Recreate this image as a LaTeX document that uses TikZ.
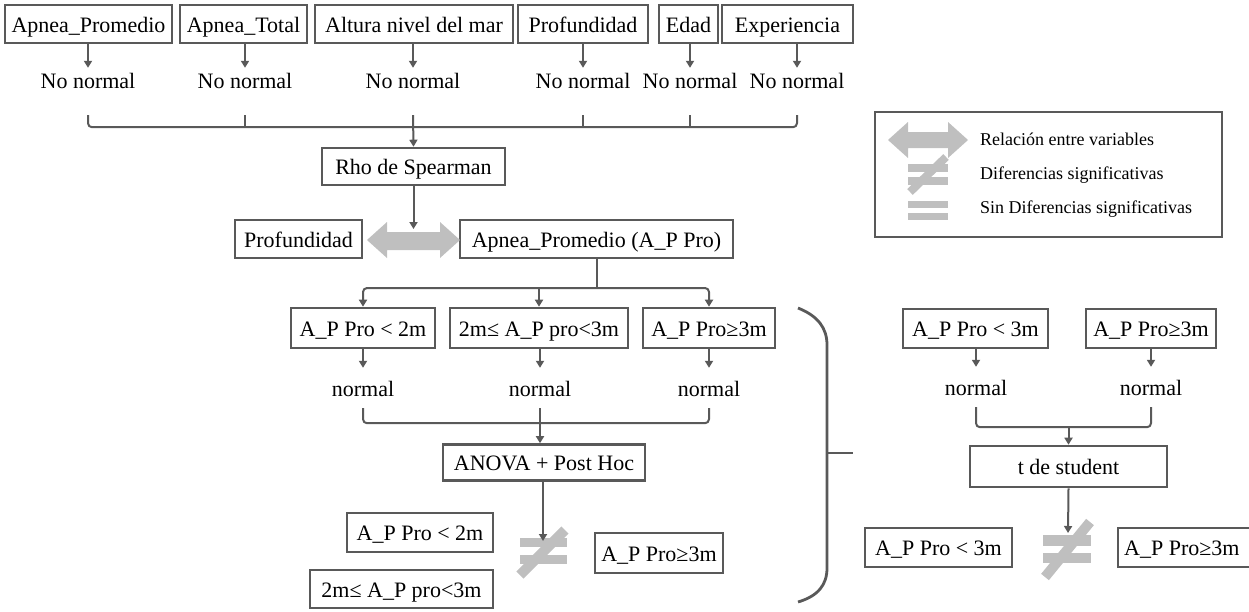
\documentclass[tikz,border=0pt]{standalone}
\usepackage{fontspec}
\setmainfont{Liberation Serif}
\usetikzlibrary{arrows.meta,calc}
\definecolor{ln}{HTML}{595959}
\definecolor{sym}{HTML}{BFBFBF}
\begin{document}
\begin{tikzpicture}[x=1pt,y=-1pt,
  box/.style={draw=ln,line width=2.6pt,inner sep=0pt,text height=17pt,text depth=1pt,font=\fontsize{22}{26}\selectfont,fill=white},
  lbl/.style={inner sep=0pt,minimum height=24,text height=17pt,text depth=1pt,font=\fontsize{22}{26}\selectfont},
  conn/.style={draw=ln,line width=2pt},
  arr/.style={conn,-{Triangle[width=8pt,length=7pt]}},
  brk/.style={conn,rounded corners=4pt},
  leg/.style={inner sep=0pt,anchor=west,text height=12pt,text depth=4pt,font=\fontsize{18}{22}\selectfont}
]
\useasboundingbox (0,0) rectangle (1249,611);
\clip (0,0) rectangle (1249,611);

% top row
\node[box,minimum width=167,minimum height=38] (t1) at (88.5,24) {Apnea\_Promedio};
\node[box,minimum width=127,minimum height=38] (t2) at (243.5,24) {Apnea\_Total};
\node[box,minimum width=198,minimum height=38] (t3) at (414,24) {Altura nivel del mar};
\node[box,minimum width=130,minimum height=38] (t4) at (583,24) {Profundidad};
\node[box,minimum width=59,minimum height=38] (t5) at (688.5,24) {Edad};
\node[box,minimum width=131,minimum height=38] (t6) at (787.5,24) {Experiencia};

\node[lbl] (n1) at (88,80) {No normal};
\node[lbl] (n2) at (245,80) {No normal};
\node[lbl] (n3) at (413,80) {No normal};
\node[lbl] (n4) at (583,80) {No normal};
\node[lbl] (n5) at (690,80) {No normal};
\node[lbl] (n6) at (797,80) {No normal};
\foreach \i in {1,...,6} {\draw[arr] (n\i |- t\i.south) -- (n\i.north);}

\draw[brk] ($(n1.south)+(0,23)$) |- ($(n6.south)+(0,35)$) -- ($(n6.south)+(0,23)$);
\foreach \i in {2,4,5} {\draw[conn] ($(n\i.south)+(0,23)$) -- ++(0,12);}

\node[box,minimum width=183,minimum height=37] (rho) at (413.5,166.5) {Rho de Spearman};
\draw[arr] ($(n3.south)+(0,23)$) -- (rho.north);

\node[box,minimum width=127,minimum height=38] (pf) at (298.5,239) {Profundidad};
\node[box,minimum width=273,minimum height=38] (apm) at (596.5,239) {Apnea\_Promedio (A\_P Pro)};
\fill[sym] (367,240) -- (387,222) -- (387,232) -- (440,232) -- (440,222) -- (460,240)
  -- (440,258) -- (440,250) -- (387,250) -- (387,258) -- cycle;
\coordinate (rt) at (413.5,229);
\draw[arr] (rho.south) -- (rt);

% three groups
\node[box,minimum width=144,minimum height=40] (r1) at (363,328) {A\_P Pro < 2m};
\node[box,minimum width=178,minimum height=40] (r2) at (539,328) {2m≤ A\_P pro<3m};
\node[box,minimum width=132,minimum height=40] (r3) at (709,328) {A\_P Pro≥3m};
\coordinate (ab) at (597,288);
\draw[conn] (apm.south -| ab) -- (ab);
\draw[brk,-{Triangle[width=8pt,length=7pt]}] (ab) -| (r1.north);
\draw[brk,-{Triangle[width=8pt,length=7pt]}] (ab) -| (r3.north);
\draw[arr] (r2.north |- ab) -- (r2.north);

\node[lbl,minimum height=40] (m1) at (363,388) {normal};
\node[lbl,minimum height=40] (m2) at (540,388) {normal};
\node[lbl,minimum height=40] (m3) at (709,388) {normal};
\foreach \i in {1,2,3} {\draw[arr] (m\i |- r\i.south) -- (m\i.north);}
\draw[brk] (m1.south) |- ($(m3.south)+(0,15)$) -- (m3.south);

\node[box,minimum width=202,minimum height=36] (anova) at (544,462.5) {ANOVA + Post Hoc};
\draw[arr] (m2.south) -- (m2.south |- anova.north);

\node[box,minimum width=146,minimum height=39] (l1) at (420,532.5) {A\_P Pro < 2m};
\node[box,minimum width=183,minimum height=38] (l2) at (401.5,589) {2m≤ A\_P pro<3m};
\node[box,minimum width=128,minimum height=40] (l3) at (659,553) {A\_P Pro≥3m};

% not-equal (ANOVA)
\fill[sym] (520,538) rectangle (567,547);
\fill[sym] (520,555) rectangle (567,564);
\draw[sym,line width=10pt] (520,575) -- (565,530);
\coordinate (ne1) at (543,541);
\draw[arr] (anova.south -| ne1) -- (ne1);

% big bracket
\draw[ln,line width=2.8pt] (798,308) .. controls (818,316) and (827,328) .. (827,345)
  -- (827,568) .. controls (827,585) and (818,596) .. (798,602);
\draw[ln,line width=2.8pt] (827,453) -- (853,453);

% right section
\node[box,minimum width=145,minimum height=39] (s1) at (975.5,328.5) {A\_P Pro < 3m};
\node[box,minimum width=130,minimum height=39] (s2) at (1151,328.5) {A\_P Pro≥3m};
\node[lbl,minimum height=40] (k1) at (976,387) {normal};
\node[lbl,minimum height=40] (k2) at (1151,387) {normal};
\draw[arr] (k1 |- s1.south) -- (k1.north);
\draw[arr] (k2 |- s2.south) -- (k2.north);
\node[box,minimum width=197,minimum height=41] (stu) at (1068.5,466.5) {t de student};
\draw[brk] (k1.south) |- ($(k2.south)+(0,20)$) -- (k2.south);
\draw[arr] (stu.north |- 0,427) -- (stu.north);

\node[box,minimum width=147,minimum height=39] (u1) at (938.5,547.5) {A\_P Pro < 3m};
\node[lbl,anchor=west] (u2) at (1124,547.5) {A\_P Pro≥3m};
\draw[ln,line width=2.6pt] ($(u2.west)+(-6,-19.5)$) rectangle ($(u2.west)+(140,19.5)$);

\fill[sym] (1043,535) rectangle (1091,546);
\fill[sym] (1043,553) rectangle (1091,563);
\draw[sym,line width=10pt] (1045,577) -- (1090,522);
\coordinate (ne2) at (1068,533);
\draw[arr] (stu.south) -- (ne2);

% legend
\node[draw=ln,line width=2.4pt,minimum width=347,minimum height=125,inner sep=0pt] (lg) at (1048.5,174.5) {};
\fill[sym] (888,140) -- (908,122) -- (908,132) -- (948,132) -- (948,122) -- (968,140)
  -- (948,158) -- (948,148) -- (908,148) -- (908,158) -- cycle;
\fill[sym] (908,164) rectangle (948,172);
\fill[sym] (908,177) rectangle (948,185);
\draw[sym,line width=8pt] (910,192) -- (946,157);
\fill[sym] (908,201) rectangle (948,208);
\fill[sym] (908,213) rectangle (948,220);
\node[leg] (g1) at (980,141) {Relación entre variables};
\node[leg] (g2) at (980,175) {Diferencias significativas};
\node[leg] (g3) at (980,209) {Sin Diferencias significativas};
\end{tikzpicture}
\end{document}
